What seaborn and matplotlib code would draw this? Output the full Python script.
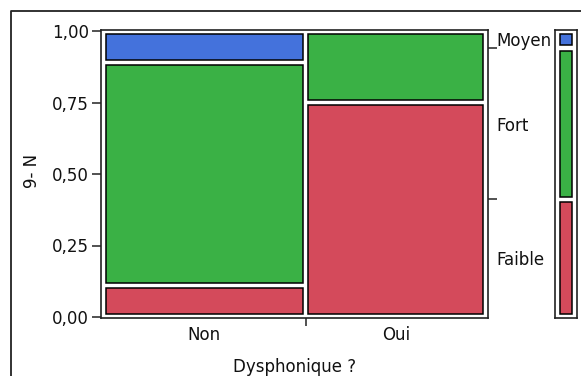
import numpy as np
import pandas as pd
import matplotlib
matplotlib.use('Agg')
import matplotlib.pyplot as plt
import seaborn as sns
from matplotlib.lines import Line2D

# ---- data ----
groups = ['Non', 'Oui']
levels = ['Faible', 'Fort', 'Moyen']
faible = [2, 12]
fort = [14, 4]
moyen = [2, 0]
yticks = [0, 0.25, 0.5, 0.75, 1.0]
ytick_labels = ['0,00', '0,25', '0,50', '0,75', '1,00']
colors = {'Faible': '#D44A5B', 'Fort': '#3AB145', 'Moyen': '#4472DC'}
x_title = 'Dysphonique ?'
y_title = '9- N'

sns.set_theme(style='ticks')
plt.rcParams['font.family'] = ['DejaVu Sans']
FS = 12
TXT = '#111111'
LINE = '#222222'

W, H = 581, 376
fig = plt.figure(figsize=(W / 100, H / 100), dpi=100)


def px_rect(x0, y0, x1, y1):
    return [x0 / W, 1 - y1 / H, (x1 - x0) / W, (y1 - y0) / H]


counts = np.array([faible, fort, moyen], dtype=float)  # levels x groups
col_tot = counts.sum(axis=0)
edges = [0.0] + list(np.cumsum(col_tot) / col_tot.sum())
centers = [(edges[i] + edges[i + 1]) / 2 for i in range(len(groups))]

rows = []
for li, lev in enumerate(levels):
    for gi, g in enumerate(groups):
        rows.append({'pos': centers[gi], 'level': lev, 'n': counts[li, gi]})
df = pd.DataFrame(rows)

lev_tot = counts.sum(axis=1)
df_m = pd.DataFrame({'pos': [0.5] * len(levels), 'level': levels, 'n': lev_tot})

# main axes geometry (pixels)
AX0, AX1, AY0, AY1 = 101, 488, 30, 318
PXX = 383.0   # pixels per unit in x
PXY = 286.0   # pixels per unit in y
ylim = (-1 / PXY, 1 + 1 / PXY)

ax = fig.add_axes(px_rect(AX0, AY0, AX1, AY1))
sns.histplot(data=df, x='pos', weights='n', hue='level',
             hue_order=levels[::-1], bins=edges, multiple='fill',
             palette=colors, edgecolor='black', linewidth=1.1, alpha=1,
             legend=False, ax=ax)


def inset_patches(a, dx, dy):
    for p in list(a.patches):
        if p.get_height() <= 1e-9:
            p.remove()
            continue
        p.set_x(p.get_x() + dx)
        p.set_width(p.get_width() - 2 * dx)
        p.set_y(p.get_y() + dy)
        p.set_height(p.get_height() - 2 * dy)


inset_patches(ax, 2.7 / PXX, 2.7 / PXY)
ax.set_xlim(-2 / PXX, 1 + 2 / PXX)
ax.set_ylim(*ylim)
ax.set_xlabel('')
ax.set_ylabel('')
ax.set_yticks(yticks)
ax.set_yticklabels(ytick_labels, fontsize=FS, color=TXT)
ax.set_xticks([edges[1]])
ax.set_xticklabels([''])
ax.set_xticks(centers, minor=True)
ax.set_xticklabels(groups, minor=True, fontsize=FS, color=TXT)
ax.tick_params(axis='y', which='major', length=6.5, width=1.1, color=LINE,
               pad=2.2, direction='out')
ax.tick_params(axis='x', which='major', length=6, width=1.1, color=LINE,
               direction='out')
ax.tick_params(axis='x', which='minor', length=0, pad=6.0)
for s in ax.spines.values():
    s.set_visible(True)
    s.set_color(LINE)
    s.set_linewidth(1.2)

# right-hand labels (marginal proportions)
mcum = np.cumsum(lev_tot) / lev_tot.sum()
mcent = (np.concatenate([[0], mcum[:-1]]) + mcum) / 2
ax2 = ax.twinx()
ax2.set_ylim(*ylim)
ax2.set_yticks(list(mcum[:-1]))
ax2.set_yticklabels([''] * (len(mcum) - 1))
ax2.set_yticks(list(mcent), minor=True)
ax2.set_yticklabels(levels, minor=True, fontsize=FS, color=TXT)
ax2.tick_params(axis='y', which='major', length=6.5, width=1.1, color=LINE,
                direction='out')
ax2.tick_params(axis='y', which='minor', length=0, pad=5.8)
for s in ax2.spines.values():
    s.set_visible(False)

# marginal bar
axm = fig.add_axes(px_rect(555, AY0, 577, AY1))
sns.histplot(data=df_m, x='pos', weights='n', hue='level',
             hue_order=levels[::-1], bins=[0.0, 1.0], multiple='fill',
             palette=colors, edgecolor='black', linewidth=1.1, alpha=1,
             legend=False, ax=axm)
inset_patches(axm, 5.0 / 22, 2.7 / PXY)
axm.set_xlim(0, 1)
axm.set_ylim(*ylim)
axm.set_xticks([])
axm.set_yticks([])
axm.set_xlabel('')
axm.set_ylabel('')
for s in axm.spines.values():
    s.set_visible(True)
    s.set_color(LINE)
    s.set_linewidth(1.2)

# titles
fig.text(294.5 / W, 1 - 375.5 / H, x_title, ha='center', va='bottom',
         fontsize=FS, color=TXT)
fig.text(32 / W, 1 - 171 / H, y_title, ha='center', va='center',
         rotation=90, fontsize=FS, color=TXT)

# outer frame (extends past the image)
fx, fy = 11 / W, 1 - 11 / H
fig.add_artist(Line2D([fx, fx, 1.01], [-0.01, fy, fy],
                      transform=fig.transFigure, color=LINE, lw=1.3))

fig.savefig('out.png', dpi=100)
